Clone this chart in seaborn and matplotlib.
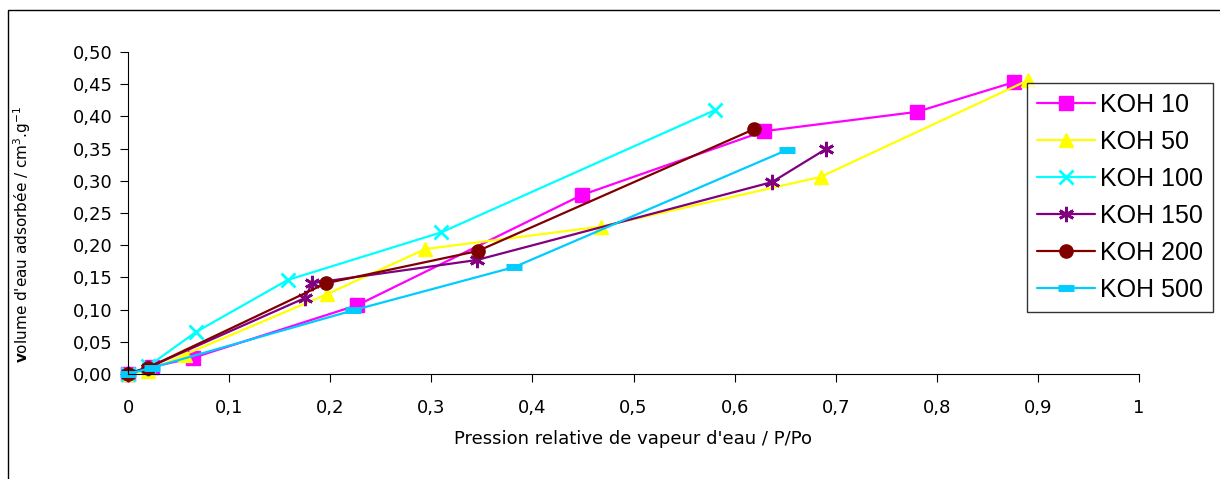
import matplotlib
matplotlib.use("Agg")
import matplotlib.pyplot as plt
from matplotlib.patches import Rectangle
import seaborn as sns
import pandas as pd

sns.set_style("white")
plt.rcParams['font.family'] = ['DejaVu Sans']
plt.rcParams['mathtext.fontset'] = 'dejavusans'
plt.rcParams['text.color'] = 'black'
plt.rcParams['axes.labelcolor'] = 'black'
plt.rcParams['xtick.color'] = 'black'
plt.rcParams['ytick.color'] = 'black'

series_names = ["KOH 10", "KOH 50", "KOH 100", "KOH 150", "KOH 200", "KOH 500"]

koh10_x = [0, 0.024, 0.064, 0.227, 0.449, 0.629, 0.780, 0.876]
koh10_y = [0, 0.011, 0.025, 0.107, 0.278, 0.377, 0.407, 0.453]

koh50_x = [0, 0.020, 0.056, 0.197, 0.294, 0.468, 0.685, 0.890]
koh50_y = [0, 0.005, 0.030, 0.124, 0.194, 0.229, 0.306, 0.456]

koh100_x = [0, 0.020, 0.067, 0.158, 0.310, 0.581]
koh100_y = [0, 0.012, 0.065, 0.146, 0.220, 0.410]

koh150_x = [0, 0.020, 0.175, 0.182, 0.345, 0.637, 0.690]
koh150_y = [0, 0.010, 0.118, 0.141, 0.177, 0.298, 0.349]

koh200_x = [0, 0.020, 0.196, 0.346, 0.619]
koh200_y = [0, 0.010, 0.141, 0.191, 0.380]

koh500_x = [0, 0.024, 0.223, 0.382, 0.652]
koh500_y = [0, 0.010, 0.099, 0.166, 0.348]

x_ticks = [0, 0.1, 0.2, 0.3, 0.4, 0.5, 0.6, 0.7, 0.8, 0.9, 1.0]
x_labels = ["0", "0,1", "0,2", "0,3", "0,4", "0,5", "0,6", "0,7", "0,8", "0,9", "1"]
y_ticks = [0, 0.05, 0.10, 0.15, 0.20, 0.25, 0.30, 0.35, 0.40, 0.45, 0.50]
y_labels = ["0,00", "0,05", "0,10", "0,15", "0,20", "0,25", "0,30", "0,35", "0,40", "0,45", "0,50"]

xs = [koh10_x, koh50_x, koh100_x, koh150_x, koh200_x, koh500_x]
ys = [koh10_y, koh50_y, koh100_y, koh150_y, koh200_y, koh500_y]
colors = ["#FF00FF", "#FFFF00", "#00FFFF", "#800080", "#800000", "#00CCFF"]
markers = ["s", "^", "x", (6, 2, 0), "o", "_"]
msizes = [10, 10, 10, 11, 9.5, 11]
mews = [1, 1, 2, 2, 1, 5]

fig = plt.figure(figsize=(12.2, 4.79), dpi=100)
fig.patches.append(Rectangle((8/1220, -0.01), 1.02, 1 - 10/479 + 0.01, transform=fig.transFigure,
                             fill=False, edgecolor="black", linewidth=1.0, zorder=0))
ax = fig.add_axes([128/1220, 1 - 374/479, (1139-128)/1220, (374-52)/479])

for name, x, y, c, m, ms, mew in zip(series_names, xs, ys, colors, markers, msizes, mews):
    df = pd.DataFrame({"x": x, "y": y})
    sns.lineplot(data=df, x="x", y="y", ax=ax, sort=False, color=c, marker=m,
                 markersize=ms, markeredgewidth=mew, markeredgecolor=c,
                 markerfacecolor=c, linewidth=1.6, label=name, clip_on=False,
                 estimator=None)

ax.set_xlim(0, 1)
ax.set_ylim(0, 0.5)
ax.set_xticks(x_ticks)
ax.set_xticklabels(x_labels, fontsize=13)
ax.set_yticks(y_ticks)
ax.set_yticklabels(y_labels, fontsize=13)
ax.tick_params(axis="both", direction="out", length=6, width=0.8, color="black",
               bottom=True, left=True)
ax.tick_params(axis="x", pad=12)
ax.tick_params(axis="y", pad=5)
for s in ["top", "right"]:
    ax.spines[s].set_visible(False)
for s in ["left", "bottom"]:
    ax.spines[s].set_color("black")
    ax.spines[s].set_linewidth(0.8)

ax.set_xlabel("Pression relative de vapeur d'eau / P/Po", fontsize=13, labelpad=9)
ax.set_ylabel(r"$\mathbf{v}$olume d'eau adsorbée / cm$^3$.g$^{-1}$", fontsize=11)
ax.yaxis.set_label_coords(-0.094, 0.435)

leg = ax.legend(loc="upper left", bbox_to_anchor=(1027/1220, 1 - 83/479),
                bbox_transform=fig.transFigure, frameon=True,
                prop={"family": "Liberation Sans", "size": 18},
                fancybox=False, edgecolor="black", borderpad=0.4, labelspacing=0.52,
                handlelength=2.3, handletextpad=0.2, borderaxespad=0)
leg.get_frame().set_linewidth(1.0)

fig.savefig("out.png", dpi=100)
